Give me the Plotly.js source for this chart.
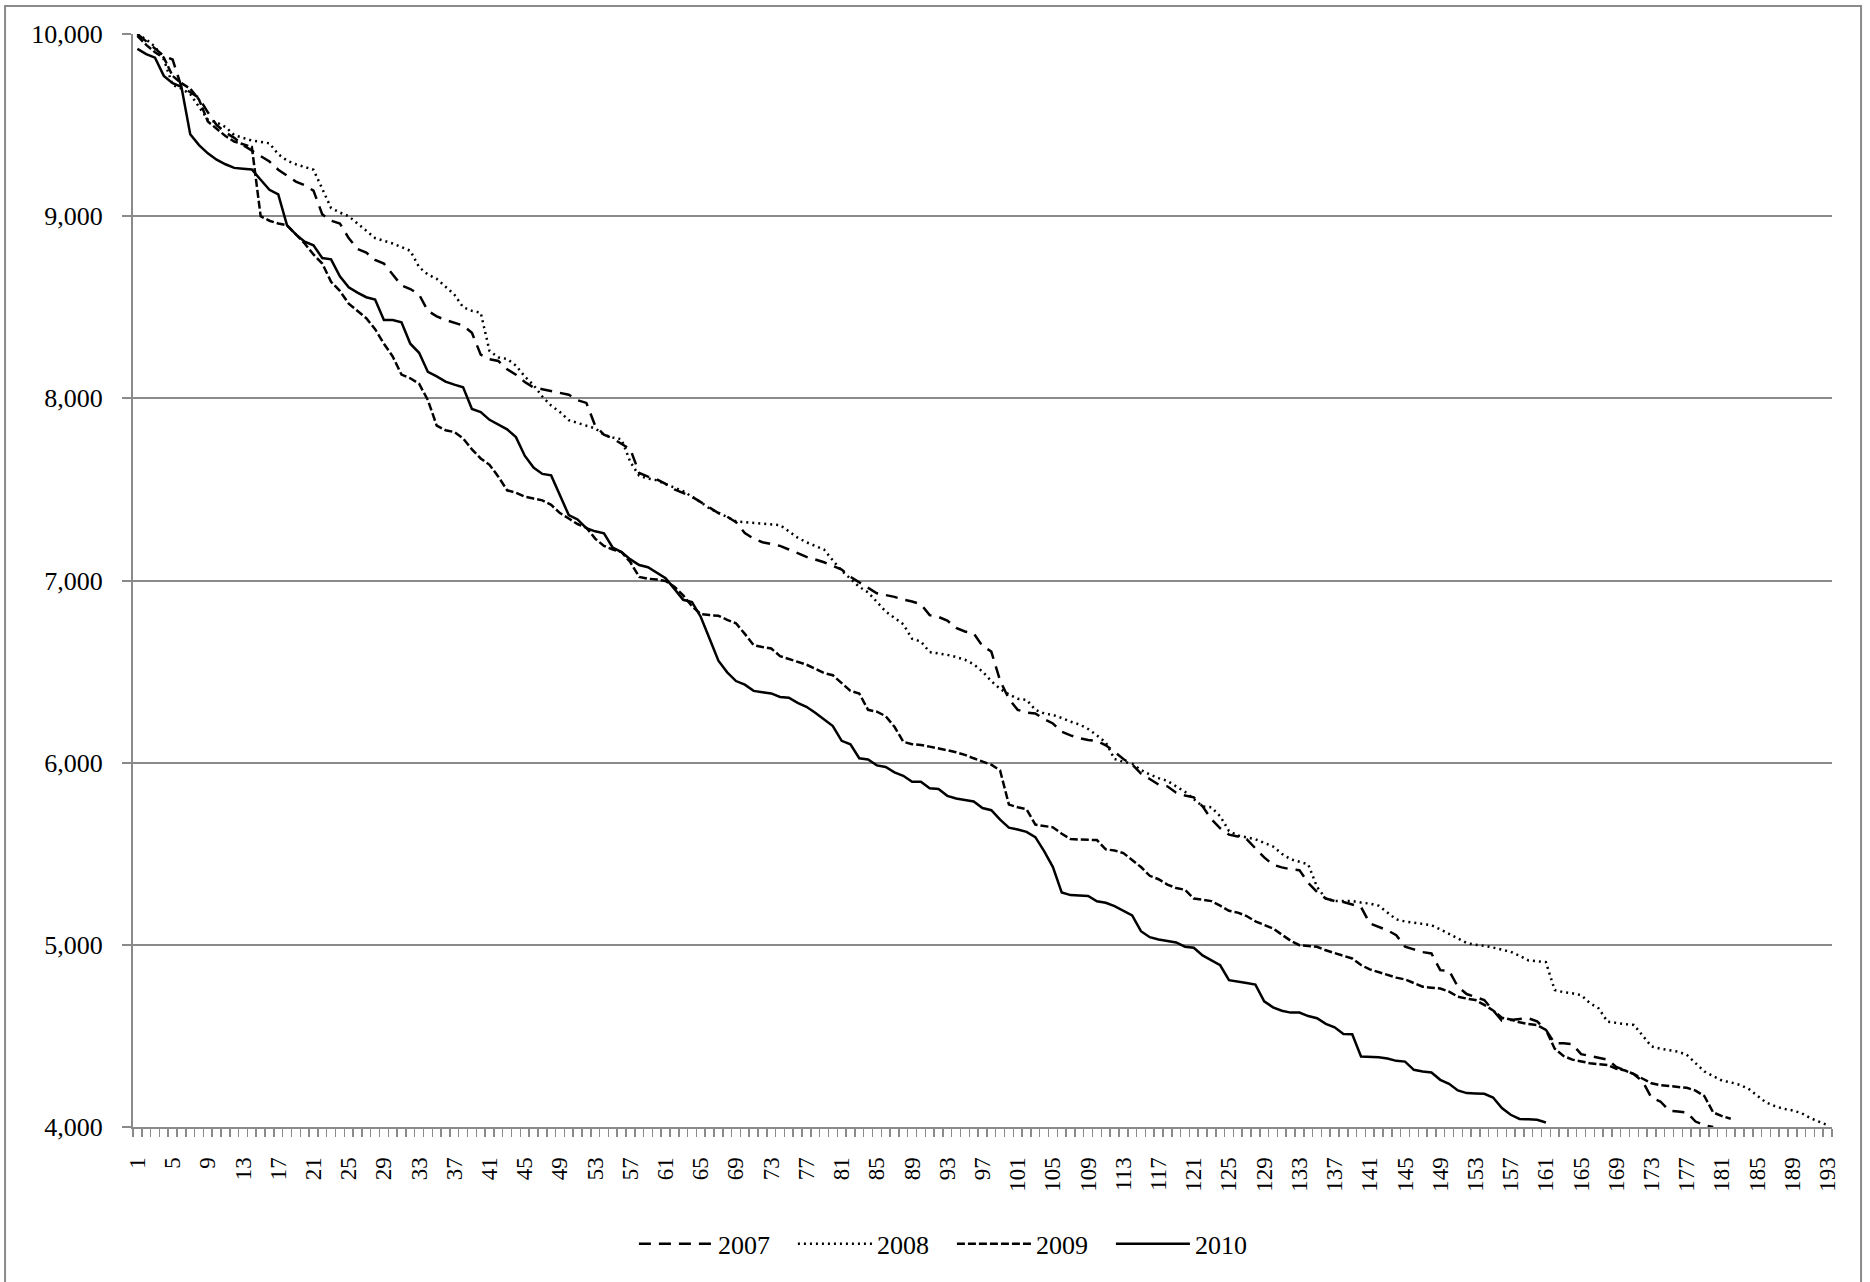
<!DOCTYPE html>
<html>
<head>
<meta charset="utf-8">
<script src="https://cdn.plot.ly/plotly-3.0.1.min.js"></script>
<style>
html,body{margin:0;padding:0;background:#fff;}
#chart{width:1870px;height:1282px;}
</style>
</head>
<body>
<div id="chart"></div>
<script>
// ---- data ----
const seriesNames = ['2007', '2008', '2009', '2010'];

const y2007 = [10000,9960,9920,9880,9860,9710,9680,9650,9570,9500,9460,9430,9390,9360,9330,9300,9255,9220,9190,9170,
9140,9010,8975,8960,8880,8820,8800,8760,8740,8680,8620,8600,8570,8480,8450,8430,8415,8400,8360,8240,
8215,8205,8160,8130,8090,8060,8050,8040,8030,8020,7990,7975,7850,7800,7780,7750,7720,7590,7570,7555,
7530,7500,7480,7460,7430,7400,7370,7350,7320,7260,7230,7210,7200,7190,7170,7150,7130,7115,7100,7080,
7060,7020,6990,6960,6930,6920,6910,6895,6885,6870,6810,6800,6780,6740,6720,6710,6640,6610,6450,6350,
6290,6275,6270,6240,6215,6170,6150,6135,6125,6120,6095,6060,6020,5990,5940,5910,5880,5870,5835,5820,
5810,5760,5690,5640,5605,5595,5580,5530,5480,5440,5425,5415,5410,5340,5290,5254,5240,5235,5220,5208,
5117,5100,5080,5053,4990,4975,4960,4953,4861,4858,4770,4730,4715,4697,4640,4584,4588,4591,4597,4580,
4533,4460,4460,4455,4400,4390,4380,4370,4330,4310,4290,4250,4160,4140,4090,4085,4080,4030,4010,4000];

const y2008 = [10000,9970,9930,9860,9720,9700,9670,9600,9530,9515,9490,9445,9430,9415,9408,9400,9340,9305,9285,9270,
9255,9150,9045,9020,9000,8960,8920,8880,8865,8850,8830,8810,8720,8680,8656,8615,8570,8500,8480,8470,
8260,8225,8216,8180,8120,8073,8010,7960,7925,7880,7865,7850,7835,7800,7785,7775,7650,7575,7560,7550,
7530,7513,7490,7460,7430,7395,7372,7350,7325,7320,7315,7310,7308,7304,7270,7235,7210,7189,7170,7110,
7054,7010,6965,6935,6880,6830,6795,6760,6680,6665,6607,6600,6592,6580,6565,6540,6500,6448,6405,6375,
6351,6345,6290,6270,6262,6245,6225,6210,6185,6150,6111,6020,6005,5995,5960,5935,5915,5900,5870,5840,
5800,5760,5755,5706,5625,5600,5590,5580,5560,5540,5500,5470,5456,5442,5318,5254,5240,5242,5240,5232,
5226,5215,5180,5140,5128,5120,5112,5108,5085,5060,5035,5010,5000,4995,4985,4975,4962,4940,4915,4910,
4905,4752,4740,4734,4724,4680,4651,4578,4570,4565,4560,4500,4442,4430,4420,4414,4396,4350,4305,4280,
4255,4245,4232,4210,4170,4135,4115,4100,4091,4077,4050,4030,4010];

const y2009 = [9990,9940,9900,9870,9770,9730,9700,9640,9520,9480,9440,9410,9395,9380,9000,8975,8960,8950,8900,8850,
8790,8740,8640,8590,8520,8480,8440,8380,8300,8230,8130,8110,8080,7990,7850,7825,7815,7780,7720,7670,
7635,7570,7495,7482,7460,7450,7440,7415,7370,7340,7310,7290,7230,7190,7170,7156,7100,7020,7010,7005,
6997,6966,6918,6859,6815,6810,6806,6784,6765,6707,6645,6635,6627,6585,6570,6553,6538,6515,6492,6480,
6438,6394,6380,6290,6280,6255,6197,6115,6101,6097,6088,6076,6068,6057,6043,6024,6005,5989,5957,5770,
5755,5745,5660,5652,5645,5610,5581,5578,5577,5575,5524,5518,5504,5466,5427,5379,5360,5331,5312,5302,
5254,5248,5240,5215,5187,5177,5158,5129,5110,5090,5056,5023,4998,4993,4989,4970,4953,4940,4925,4889,
4865,4850,4835,4820,4810,4790,4770,4765,4760,4743,4715,4705,4697,4670,4640,4600,4590,4575,4565,4560,
4533,4430,4390,4370,4360,4350,4345,4340,4320,4310,4290,4265,4240,4230,4225,4220,4215,4200,4170,4080,
4060,4045];

const y2010 = [9918,9890,9870,9770,9730,9710,9450,9390,9345,9310,9285,9265,9260,9256,9200,9145,9120,8950,8900,8860,
8840,8770,8763,8670,8610,8580,8555,8542,8430,8430,8418,8300,8250,8145,8120,8092,8075,8061,7942,7925,
7882,7855,7830,7787,7685,7620,7585,7577,7466,7359,7335,7287,7270,7259,7180,7156,7116,7085,7073,7045,
7013,6954,6894,6882,6800,6680,6560,6496,6448,6428,6394,6387,6380,6361,6357,6328,6307,6274,6236,6201,
6120,6101,6024,6018,5985,5976,5947,5928,5895,5895,5860,5855,5818,5803,5795,5787,5751,5739,5687,5643,
5633,5620,5591,5514,5427,5287,5273,5270,5268,5239,5231,5212,5187,5162,5075,5042,5029,5020,5013,4990,
4984,4942,4917,4888,4806,4796,4790,4782,4690,4657,4638,4628,4628,4609,4597,4566,4547,4511,4509,4387,
4385,4383,4376,4363,4359,4314,4305,4299,4259,4237,4201,4186,4184,4182,4162,4104,4067,4044,4042,4040,
4025];

const categoryCount = 193;
const categories = Array.from({length: categoryCount}, (_, k) => k + 1);
const tickLabels = ['1','5','9','13','17','21','25','29','33','37','41','45','49','53','57','61','65','69','73','77',
'81','85','89','93','97','101','105','109','113','117','121','125','129','133','137','141','145','149','153','157',
'161','165','169','173','177','181','185','189','193'];
const yTickValues = [4000, 5000, 6000, 7000, 8000, 9000, 10000];

// ---- styles ----
const FONT = 'Liberation Serif, Times New Roman, serif';
const GRID = '#8a8a8a';
const dashes = {'2007': '12px,8px', '2008': '2px,4px', '2009': '8px,3px', '2010': 'solid'};
const seriesData = {'2007': y2007, '2008': y2008, '2009': y2009, '2010': y2010};

const traces = seriesNames.map(name => ({
  type: 'scatter',
  mode: 'lines',
  name: name,
  x: categories.slice(0, seriesData[name].length),
  y: seriesData[name],
  line: {color: '#000000', width: 2.5, dash: dashes[name]},
  hoverinfo: 'skip'
}));

const layout = {
  width: 1870,
  height: 1282,
  paper_bgcolor: '#ffffff',
  plot_bgcolor: '#ffffff',
  margin: {l: 133, r: 38, t: 34, b: 155, pad: 0},
  showlegend: true,
  font: {family: FONT, color: '#000000', size: 22},
  xaxis: {
    type: 'linear',
    range: [0.5, categoryCount + 0.5],
    tickmode: 'array',
    tickvals: tickLabels.map(Number),
    ticktext: tickLabels,
    tickangle: -90,
    ticks: '',
    ticklabelstandoff: 19,
    tickfont: {family: FONT, size: 23, color: '#000'},
    showgrid: false,
    zeroline: false,
    showline: true,
    linecolor: GRID,
    linewidth: 2,
    minor: {tick0: 0.5, dtick: 1, ticks: 'outside', ticklen: 8, tickwidth: 1.5, tickcolor: GRID, showgrid: false}
  },
  yaxis: {
    range: [4000, 10000],
    tickmode: 'array',
    tickvals: yTickValues,
    ticktext: yTickValues.map(v => v.toLocaleString('en-US')),
    ticks: 'outside',
    ticklen: 9,
    tickwidth: 2,
    tickcolor: GRID,
    ticklabelstandoff: 14,
    tickfont: {family: FONT, size: 26, color: '#000'},
    showgrid: true,
    gridcolor: GRID,
    gridwidth: 2,
    zeroline: false,
    showline: true,
    linecolor: GRID,
    linewidth: 2
  },
  legend: {
    orientation: 'h',
    x: 0.482,
    xanchor: 'center',
    y: -0.107,
    yanchor: 'middle',
    font: {family: FONT, size: 26, color: '#000'},
    entrywidth: 70,
    entrywidthmode: 'pixels',
    itemwidth: 74,
    bgcolor: 'rgba(0,0,0,0)',
    borderwidth: 0
  },
  shapes: [{
    type: 'rect', xref: 'paper', yref: 'paper',
    x0: -0.0753, x1: 1.0171, y0: -0.2, y1: 1.0256,
    line: {color: GRID, width: 2}, fillcolor: 'rgba(0,0,0,0)', layer: 'below'
  }]
};

Plotly.newPlot('chart', traces, layout, {staticPlot: true, displayModeBar: false});
</script>
</body>
</html>
